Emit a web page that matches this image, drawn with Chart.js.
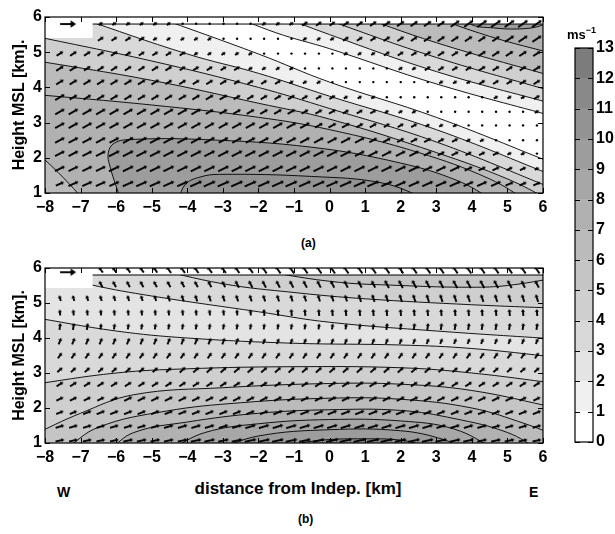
<!DOCTYPE html>
<html>
<head>
<meta charset="utf-8">
<title>Wind speed cross sections</title>
<script src="https://cdn.jsdelivr.net/npm/chart.js@4/dist/chart.umd.min.js"></script>
<style>
  body { margin: 0; background: #fff; }
  #page { position: relative; width: 615px; height: 534px; font-family: "Liberation Sans", Arial, sans-serif; font-weight: bold; color: #000; }
  #page canvas { position: absolute; }
  .lbl { position: absolute; white-space: nowrap; line-height: 1; }
</style>
</head>
<body>
<div id="page">
  <canvas id="panelA" width="560" height="230" style="left:0;top:0"></canvas>
  <canvas id="panelB" width="560" height="220" style="left:0;top:250px"></canvas>
  <canvas id="cbar" width="60" height="440" style="left:555px;top:25px"></canvas>
  <div class="lbl" style="left:301px;top:237px;font-size:12px">(a)</div>
  <div class="lbl" style="left:57px;top:485px;font-size:14px">W</div>
  <div class="lbl" style="left:0;width:596px;text-align:center;top:480px;font-size:17px">distance from Indep. [km]</div>
  <div class="lbl" style="left:529px;top:485px;font-size:14px">E</div>
  <div class="lbl" style="left:298px;top:513px;font-size:12px">(b)</div>
  <div class="lbl" style="left:567px;top:28px;font-size:13px">ms<span style="font-size:9px;position:relative;top:-6px">&minus;1</span></div>
</div>
<script>
Chart.defaults.font.family = '"Liberation Sans", Arial, sans-serif';
Chart.defaults.font.weight = 'bold';
Chart.defaults.font.size = 16;
Chart.defaults.color = '#000';

// grey of each 1 m/s band of the colour bar, 0-1 first
const BAR_GREYS = [255, 240, 228, 217, 207, 197, 187, 177, 167, 157, 147, 137, 124];

// wind arrow grid (km)
const ARROW_X = [-7.58, -7.2, -6.81, -6.43, -6.05, -5.66, -5.28, -4.9, -4.52, -4.13, -3.75, -3.37,
  -2.98, -2.6, -2.22, -1.84, -1.45, -1.07, -0.69, -0.3, 0.08, 0.46, 0.85, 1.23, 1.61, 2.0, 2.38,
  2.76, 3.14, 3.53, 3.91, 4.29, 4.68, 5.06, 5.44, 5.83];
const ROWS_A = [1.26, 1.69, 2.12, 2.5, 2.92, 3.31, 3.72, 4.15, 4.54, 4.96, 5.38, 5.81];
const ANGLE_A = [24, 26, 27, 28, 29, 30, 31, 32, 33, 33, 34, 35];
const ROWS_B = [1.07, 1.47, 1.87, 2.26, 2.68, 3.09, 3.5, 3.91, 4.33, 4.73, 5.14, 5.54, 5.95];
const ANGLE_B = [12, 17, 22, 27, 33, 42, 55, 68, 82, 95, 108, 118, 125];

// panel (a) speed contours [x km, height km], levels in m/s
const aLow1 = [[-5, 6.05], [-2, 4.95], [0, 4.15], [3, 3.15], [6.4, 1.8]];
const aLow2 = [[-7.1, 6.0], [-4, 4.95], [-2, 4.4], [0, 3.75], [3, 2.8], [6.4, 1.45]];
const aLow3 = [[-8.5, 5.5], [-5, 4.75], [-2, 4.0], [0, 3.4], [3, 2.45], [6.4, 1.08]];
const aLow4 = [[-8.5, 4.8], [-5, 4.2], [-2, 3.55], [0, 3.1], [3, 2.15], [5, 1.4], [6.2, 0.8]];
const aLow5 = [[-8.5, 3.82], [-5, 3.5], [-2, 3.15], [0, 2.8], [2.5, 2.15], [4.5, 1.4], [5.6, 0.75]];
const aCorner = [[-8.4, 2.3], [-8, 1.94], [-7.5, 1.45], [-6.9, 0.8]];
const aLow6 = [[-5.85, 0.75], [-6.17, 1.74], [-6.22, 2.15], [-6.05, 2.42], [-5.6, 2.52], [-3.6, 2.52],
  [-0.5, 2.3], [2, 1.85], [3.6, 1.35], [4.6, 0.8]];
const aLow7 = [[-4.25, 0.8], [-4.05, 1.25], [-3.65, 1.45], [-3.1, 1.53], [-0.5, 1.47], [1.5, 1.28], [2.8, 0.8]];
const aUp1 = [[-3.0, 6.15], [-1.5, 5.55], [0, 5.1], [3, 4.1], [6.4, 3.15]];
const aUp2 = [[-1.7, 6.15], [0, 5.5], [3, 4.45], [6.4, 3.5]];
const aUp3 = [[-0.6, 6.15], [0, 5.9], [3, 4.85], [6.4, 3.85]];
const aUp4 = [[0.5, 6.15], [3, 5.27], [6.4, 4.28]];
const aUp5 = [[2.5, 6.15], [4.5, 5.45], [6.4, 4.93]];
const aUp6 = [[3.6, 6.1], [4.0, 5.78], [4.6, 5.69], [5.3, 5.66], [5.9, 5.74], [6.3, 5.95]];
const LINES_A = [aLow1, aLow2, aLow3, aLow4, aLow5, aCorner, aLow6, aLow7, aUp1, aUp2, aUp3, aUp4, aUp5, aUp6];
const LEVEL_A = [1.5, 3, 4.5, 6, 7.5, 6, 9, 10.5, 1.5, 3, 4.5, 6, 7.5, 9];
const SIDE_A = ['bl', 'bl', 'bl', 'bl', 'bl', 'corner', 'closed', 'closed', 'tr', 'tr', 'tr', 'tr', 'tr', 'closed'];

// panel (b) speed contours
const bUp3 = [[-7.2, 5.7], [-6.7, 5.52], [-5, 5.2], [-2, 4.75], [0, 4.45], [3, 4.2], [6.4, 3.97]];
const bUp4 = [[-5.2, 6.05], [-3, 5.55], [-1, 5.3], [1, 5.12], [4, 4.95], [6.4, 4.85]];
const bUp5 = [[-2.6, 6.05], [0, 5.62], [2, 5.5], [4, 5.45], [5, 5.5], [6.4, 5.72]];
const bLow3 = [[-8.5, 4.62], [-6, 4.2], [-4, 4.0], [-1, 3.85], [2, 3.8], [4, 3.7], [6.4, 3.45]];
const bLow4 = [[-8.5, 2.65], [-6, 3.0], [-4, 3.12], [-1, 3.18], [2, 3.15], [4, 3.0], [6.4, 2.7]];
const bLow5 = [[-8.4, 1.2], [-7, 1.85], [-5.5, 2.38], [-3, 2.58], [0, 2.7], [2, 2.68], [4, 2.5], [6.4, 2.0]];
const bLow6 = [[-7.45, 0.8], [-6.5, 1.45], [-4.6, 1.91], [-2.5, 2.15], [0, 2.28], [2, 2.25], [4, 2.0], [5.5, 1.55], [6.4, 1.2]];
const bLow7 = [[-6.2, 0.8], [-5.5, 1.3], [-4, 1.6], [-2, 1.85], [0, 1.95], [2, 1.93], [3.5, 1.7], [5, 1.3], [5.9, 0.8]];
const bLow8 = [[-4.5, 0.8], [-3.5, 1.3], [-2, 1.55], [0, 1.67], [2, 1.63], [3.5, 1.4], [4.7, 0.8]];
const bLow9 = [[-3.2, 0.8], [-2, 1.2], [0, 1.38], [2, 1.35], [3.2, 1.1], [3.8, 0.8]];
const bLow10 = [[-1.6, 0.8], [-0.5, 1.05], [1, 1.12], [2.2, 1.05], [2.9, 0.8]];
const LINES_B = [bUp3, bUp4, bUp5, bLow3, bLow4, bLow5, bLow6, bLow7, bLow8, bLow9, bLow10];
const LEVEL_B = [3, 4, 5, 3, 4, 5, 6, 7, 8, 9, 10];
const SIDE_B = ['tr', 'tr', 'tr', 'bl', 'bl', 'bl', 'br', 'closed', 'closed', 'closed', 'closed'];
const BASE_B = 2;

const grey = v => { const g = BAR_GREYS[Math.min(12, Math.floor(v))]; return `rgb(${g},${g},${g})`; };
const xy = pts => pts.map(p => ({ x: p[0], y: p[1] }));

// far-away corners that close each band polygon outside the plot
const CLOSE = {
  bl: [[20, -20], [-20, -20], [-20, 20]],
  br: [[20, -20]],
  tr: [[20, 20]],
  corner: [[-20, -20]],
  closed: []
};

// carry a contour a bit past the frame so the clipped ends stay smooth
function extend(pts) {
  const n = pts.length, a = pts[0], b = pts[1], y = pts[n - 1], z = pts[n - 2];
  return [[2 * a[0] - b[0], 2 * a[1] - b[1]], ...pts, [2 * y[0] - z[0], 2 * y[1] - z[1]]];
}

function inside(p, poly) {
  let c = false;
  for (let i = 0, j = poly.length - 1; i < poly.length; j = i++) {
    const [xi, yi] = poly[i], [xj, yj] = poly[j];
    if ((yi > p[1]) !== (yj > p[1]) && p[0] < (xj - xi) * (p[1] - yi) / (yj - yi) + xi) c = !c;
  }
  return c;
}

function makeArrow(len, head) {
  const c = document.createElement('canvas');
  c.width = Math.ceil(len) + 6;
  c.height = 10;
  const g = c.getContext('2d');
  const x0 = 3, x1 = 3 + len, ym = 5;
  g.strokeStyle = '#000';
  g.fillStyle = '#000';
  g.lineWidth = 1.9;
  g.beginPath(); g.moveTo(x0, ym); g.lineTo(x1 - head / 2, ym); g.stroke();
  g.beginPath(); g.moveTo(x1, ym); g.lineTo(x1 - head, ym - head * 0.66); g.lineTo(x1 - head, ym + head * 0.66);
  g.closePath(); g.fill();
  return c;
}
const arrowCache = {};
const arrowFor = speed => {
  const len = Math.round(4 + 0.9 * speed);
  return arrowCache[len] || (arrowCache[len] = makeArrow(len, 3));
};
const REF_ARROW = makeArrow(16, 5.5);

function rectSet(poly, order) {
  return { data: xy(poly), order, fill: 'shape', backgroundColor: '#fff', borderColor: 'transparent',
    borderWidth: 0, pointRadius: 0, tension: 0 };
}

function panelSets(lines, levels, sides, base, rows, angles, boxTop, refY) {
  const paths = lines.map(extend);
  const layers = [];
  if (base) layers.push({ poly: [[-20, -20], [20, -20], [20, 20], [-20, 20]], level: base, flat: true });
  paths.forEach((p, i) => layers.push({ poly: p.concat(CLOSE[sides[i]]), level: levels[i] }));

  const sets = [];
  let order = 1000;
  layers.forEach(l => sets.push({
    data: xy(l.poly), order: order--, fill: 'shape', backgroundColor: grey(l.level),
    borderColor: 'transparent', borderWidth: 0, pointRadius: 0, tension: l.flat ? 0 : 0.4
  }));
  paths.forEach(p => sets.push({
    data: xy(p), order: order--, fill: false, borderColor: '#000', borderWidth: 0.9, pointRadius: 0, tension: 0.4
  }));
  // blank strip above 5.8 km, its edge, and the key box
  sets.push(rectSet([[-20, 5.8], [20, 5.8], [20, 20], [-20, 20]], order--));
  sets.push({ data: xy([[-8, 5.8], [6, 5.8]]), order: order--, fill: false, borderColor: '#000',
    borderWidth: 1, pointRadius: 0, tension: 0 });
  sets.push(rectSet([[-20, boxTop], [-6.66, boxTop], [-6.66, 20], [-20, 20]], order--));

  const arrows = [];
  rows.forEach((y, r) => ARROW_X.forEach(x => {
    if (x < -6.6 && y > boxTop - 0.1) return;
    let lv = 0;
    layers.forEach(l => { if (inside([x, y], l.poly)) lv = l.level; });
    arrows.push({ x, y, lv, ang: angles[r] });
  }));
  sets.push({
    data: arrows, order: order--, showLine: false,
    pointStyle: c => (c.raw && c.raw.lv > 0) ? arrowFor(c.raw.lv) : 'circle',
    rotation: c => c.raw ? -c.raw.ang : 0,
    pointRadius: c => (c.raw && c.raw.lv > 0) ? 4 : 1.2,
    pointBackgroundColor: '#000', pointBorderWidth: 0
  });
  sets.push({ data: [{ x: -7.35, y: refY }], order: order--, showLine: false, pointStyle: REF_ARROW, pointRadius: 4 });
  return sets;
}

const frame = {
  id: 'frame',
  afterDatasetsDraw(chart) {
    const { ctx, chartArea: a, scales } = chart;
    ctx.save();
    ctx.strokeStyle = '#000';
    ctx.lineWidth = 1;
    ctx.beginPath();
    ['x', 'y'].forEach(id => {
      const s = scales[id];
      if (!s || s.type !== 'linear') return;
      s.ticks.forEach(t => {
        const p = Math.round(s.getPixelForValue(t.value)) + 0.5;
        if (id === 'x') {
          ctx.moveTo(p, a.top); ctx.lineTo(p, a.top + 5);
          ctx.moveTo(p, a.bottom); ctx.lineTo(p, a.bottom - 5);
        } else {
          ctx.moveTo(a.left, p); ctx.lineTo(a.left + 5, p);
          ctx.moveTo(a.right, p); ctx.lineTo(a.right - 5, p);
        }
      });
    });
    ctx.stroke();
    ctx.lineWidth = 1.2;
    ctx.strokeRect(a.left, a.top, a.right - a.left, a.bottom - a.top);
    ctx.restore();
  }
};

function panel(id, datasets, padTop, xHeight) {
  return new Chart(document.getElementById(id), {
    type: 'line',
    data: { datasets },
    options: {
      responsive: false,
      animation: false,
      events: [],
      layout: { padding: { top: padTop, right: 17, left: 0, bottom: 0 } },
      elements: { line: { capBezierPoints: false } },
      plugins: { legend: { display: false }, tooltip: { enabled: false } },
      scales: {
        x: {
          type: 'linear', min: -8, max: 6,
          grid: { display: false, drawTicks: false }, border: { display: false },
          ticks: { stepSize: 1, padding: 5, autoSkip: false, maxRotation: 0,
            callback: v => String(v).replace('-', '\u2212') },
          afterFit: s => { s.height = xHeight; }
        },
        y: {
          type: 'linear', min: 1, max: 6,
          grid: { display: false, drawTicks: false }, border: { display: false },
          ticks: { stepSize: 1, padding: 3 },
          title: { display: true, text: 'Height MSL [km].', padding: { top: 10, bottom: 0 } },
          afterFit: s => { s.width = 45; }
        }
      }
    },
    plugins: [frame]
  });
}

panel('panelA', panelSets(LINES_A, LEVEL_A, SIDE_A, 0, ROWS_A, ANGLE_A, 5.4, 5.8), 17, 37);
panel('panelB', panelSets(LINES_B, LEVEL_B, SIDE_B, BASE_B, ROWS_B, ANGLE_B, 5.43, 5.88), 18, 27);

new Chart(document.getElementById('cbar'), {
  type: 'bar',
  data: {
    labels: [''],
    datasets: BAR_GREYS.map((g, k) => ({
      data: [1], backgroundColor: grey(k), borderWidth: 0, barPercentage: 1, categoryPercentage: 1
    }))
  },
  options: {
    responsive: false,
    animation: false,
    events: [],
    layout: { padding: { left: 20, top: 23, right: 0, bottom: 23 } },
    plugins: { legend: { display: false }, tooltip: { enabled: false } },
    scales: {
      x: { display: false, stacked: true },
      y: {
        stacked: true, position: 'right', min: 0, max: 13,
        grid: { display: false, drawTicks: false }, border: { display: false },
        ticks: { stepSize: 1, padding: 3, autoSkip: false },
        afterFit: s => { s.width = 22; }
      }
    }
  },
  plugins: [frame]
});
</script>
</body>
</html>
